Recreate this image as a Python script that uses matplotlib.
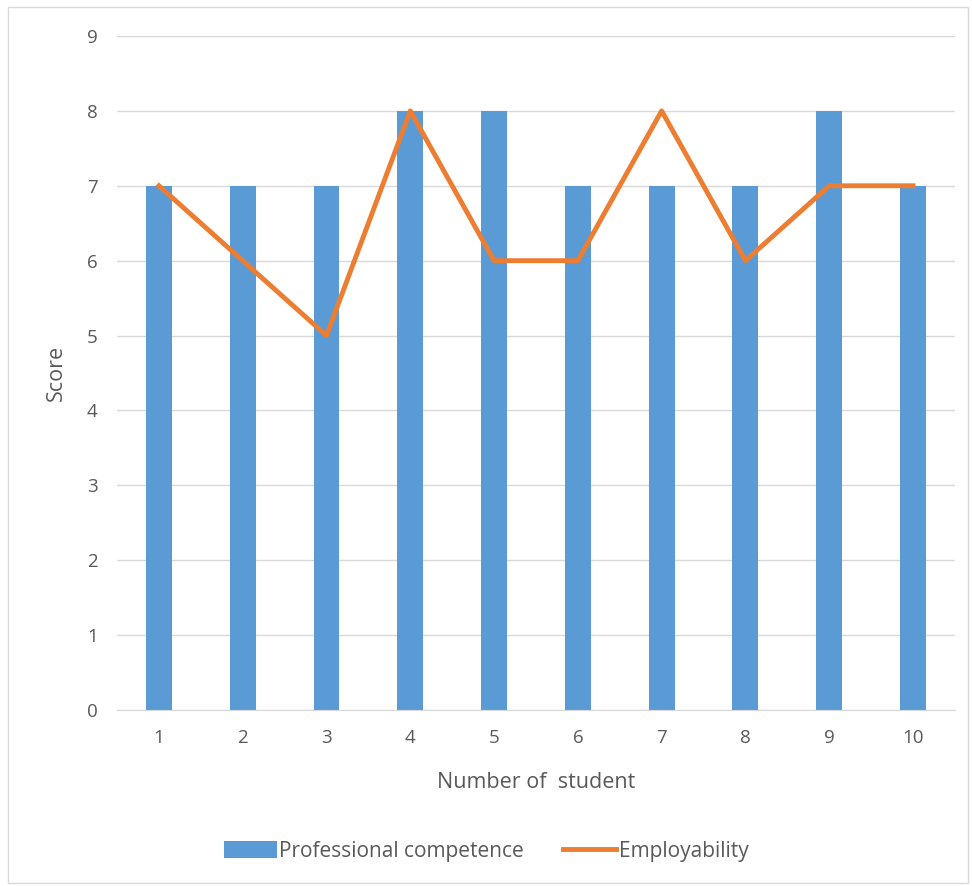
import matplotlib.pyplot as plt
import numpy as np
from matplotlib.patches import Rectangle

students = np.arange(1, 11)
professional = [7, 7, 7, 8, 8, 7, 7, 7, 8, 7]
employability = [7, 6, 5, 8, 6, 6, 8, 6, 7, 7]

plt.rcParams['font.family'] = ['Open Sans', 'DejaVu Sans']

fig = plt.figure(figsize=(9.72, 8.86), dpi=100)
fig.patches.append(Rectangle((0.008, 0.003), 0.988, 0.989, transform=fig.transFigure,
                             fill=False, edgecolor='#D9D9D9', linewidth=1))
ax = fig.add_axes([0.1204, 0.1986, 0.862, 0.7608])

bars = ax.bar(students, professional, width=0.31, color='#5B9BD5', label='Professional competence', zorder=2)
line, = ax.plot(students, employability, color='#ED7D31', linewidth=3.5, label='Employability', zorder=3)

ax.set_xlim(0.5, 10.5)
ax.set_ylim(0, 9)
ax.set_xticks(students)
ax.set_yticks(range(0, 10))
ax.grid(axis='y', color='#D9D9D9', linewidth=1, zorder=0)
for s in ['top', 'right', 'left']:
    ax.spines[s].set_visible(False)
ax.spines['bottom'].set_color('#D9D9D9')
ax.tick_params(length=0, labelsize=13.5, labelcolor='#595959', pad=14)

ax.set_xlabel('Number of  student', fontsize=15.5, color='#595959', labelpad=18)
ax.set_ylabel('Score', fontsize=15.5, color='#595959', labelpad=14)

fig.legend([bars, line], ['Professional competence', 'Employability'],
           loc='center', bbox_to_anchor=(0.5, 0.039), ncol=2, frameon=False,
           fontsize=15, labelcolor='#595959', handlelength=2.55, handleheight=0.9,
           handletextpad=0.1, columnspacing=1.9)

fig.savefig('out.png', dpi=100)
